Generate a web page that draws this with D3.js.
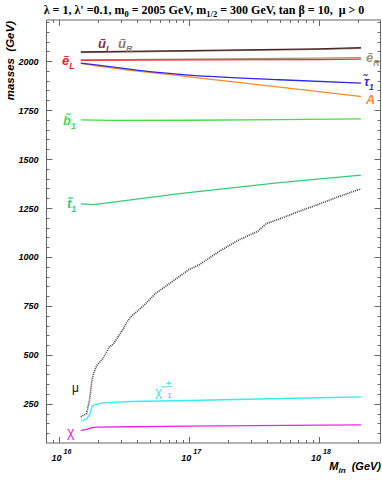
<!DOCTYPE html>
<html>
<head>
<meta charset="utf-8">
<script src="https://cdn.jsdelivr.net/npm/d3@7"></script>
<style>
  body { margin: 0; background: #fff; }
  svg text { font-family: "Liberation Sans", Arial, sans-serif; }
</style>
</head>
<body>
<div id="chart"></div>
<script>
// series: [M_in (GeV), mass (GeV)]
const uL = [[1.47e16, 2047], [1e17, 2054], [1e18, 2063], [2.12e18, 2069]];
const uR = [[1.47e16, 2044], [1e17, 2051], [1e18, 2060], [2.12e18, 2065]];
const eR = [[1.47e16, 2006], [1e17, 2010], [1e18, 2015], [2.12e18, 2018]];
const eL = [[1.47e16, 2004], [1e17, 2006], [1e18, 2008], [2.12e18, 2010]];
const tau1 = [[1.47e16, 1990], [2.06e16, 1978], [5.0e16, 1946], [1e17, 1929], [5.0e17, 1905], [2.12e18, 1888]];
const higgsA = [[1.47e16, 1988], [2e16, 1975], [1e17, 1920], [5.0e17, 1867], [2.12e18, 1819]];
const b1 = [[1.47e16, 1700], [2.5e16, 1697], [1e17, 1698], [5e17, 1701], [2.12e18, 1705]];
const t1 = [[1.47e16, 1271], [1.85e16, 1267], [8.5e16, 1323], [5.0e17, 1380], [2.12e18, 1418]];
const mu = [[1.47e16, 184], [1.63e16, 200], [1.72e16, 272], [1.79e16, 369], [1.85e16, 408], [1.95e16, 445],
  [2.18e16, 482], [2.45e16, 542], [2.6e16, 553], [3.1e16, 629], [3.3e16, 663], [3.6e16, 697],
  [4.43e16, 748], [5.6e16, 816], [7.5e16, 876], [1e17, 935], [1.21e17, 961], [1.72e17, 1029],
  [2.45e17, 1088], [3.4e17, 1131], [3.94e17, 1170], [5.0e17, 1194], [7.1e17, 1233],
  [1.01e18, 1270], [1.44e18, 1309], [2.12e18, 1348]];
const chargino = [[1.47e16, 161], [1.63e16, 173], [1.72e16, 195], [1.8e16, 238], [1.88e16, 246],
  [2.18e16, 255], [3.6e16, 262], [1e17, 267], [1e18, 281], [2.12e18, 286]];
const neutralino = [[1.47e16, 114], [1.63e16, 119], [1.79e16, 128], [1.95e16, 131], [3.6e16, 133],
  [1e17, 136], [1e18, 141], [2.12e18, 143]];

const yMajor = [250, 500, 750, 1000, 1250, 1500, 1750, 2000];
const xMajor = [1e16, 1e17, 1e18];
const xExp = ["16", "17", "18"];

const W = 382, H = 480;
const svg = d3.select("#chart").append("svg").attr("width", W).attr("height", H);

const x = d3.scaleLog().domain([8e15, 3e18]).range([46.5, 380.5]);
const y = d3.scaleLinear().domain([50, 2210]).range([443, 20]);

// title
const title = svg.append("text")
  .attr("x", 204).attr("y", 14)
  .attr("text-anchor", "middle")
  .style("font-family", "'Liberation Serif', 'Times New Roman', serif")
  .style("font-weight", "bold").style("font-size", "12px")
  .style("white-space", "pre");
title.append("tspan").text("λ = 1, λ' =0.1, m");
title.append("tspan").attr("dy", 3).style("font-size", "8.5px").text("0");
title.append("tspan").attr("dy", -3).text(" = 2005 GeV, m");
title.append("tspan").attr("dy", 3).style("font-size", "8.5px").text("1/2");
title.append("tspan").attr("dy", -3).text(" = 300 GeV, tan β = 10,  μ > 0");

// frame
svg.append("rect")
  .attr("x", x.range()[0]).attr("y", y.range()[1])
  .attr("width", x.range()[1] - x.range()[0])
  .attr("height", y.range()[0] - y.range()[1])
  .attr("fill", "none").attr("stroke", "#666").attr("stroke-width", 1);

// y ticks (left and right, inward)
const yMinor = d3.range(100, 2201, 50).filter(v => v % 250 !== 0);
const tickG = svg.append("g").attr("stroke", "#666").attr("stroke-width", 1);
[[yMajor, 6], [yMinor, 3]].forEach(([vals, len]) => {
  vals.forEach(v => {
    const yy = Math.round(y(v)) + 0.5;
    tickG.append("line").attr("x1", x.range()[0]).attr("x2", x.range()[0] + len).attr("y1", yy).attr("y2", yy);
    tickG.append("line").attr("x1", x.range()[1]).attr("x2", x.range()[1] - len).attr("y1", yy).attr("y2", yy);
  });
});

// x ticks (bottom and top, inward)
const xMinor = [9e15];
[1e16, 1e17].forEach(d => d3.range(2, 10).forEach(k => xMinor.push(k * d)));
xMinor.push(2e18);
[[xMajor, 6], [xMinor, 3]].forEach(([vals, len]) => {
  vals.forEach(v => {
    const xx = Math.round(x(v)) + 0.5;
    tickG.append("line").attr("x1", xx).attr("x2", xx).attr("y1", y.range()[0]).attr("y2", y.range()[0] - len);
    tickG.append("line").attr("x1", xx).attr("x2", xx).attr("y1", y.range()[1]).attr("y2", y.range()[1] + len);
  });
});

// y tick labels
svg.append("g").selectAll("text").data(yMajor).join("text")
  .attr("x", 38.5).attr("y", d => y(d) + 3.5)
  .attr("text-anchor", "end")
  .style("font-size", "9px").style("font-weight", "bold").style("font-style", "italic")
  .text(d => d);

// x tick labels
xMajor.forEach((v, i) => {
  const t = svg.append("text")
    .attr("x", x(v) - 7.5).attr("y", 461)
    .style("font-size", "9px").style("font-weight", "bold").style("font-style", "italic");
  t.append("tspan").text("10");
  t.append("tspan").attr("dx", 2).attr("dy", -7).style("font-size", "7px").text(xExp[i]);
});

// axis titles
const xt = svg.append("text").attr("x", 381).attr("y", 470).attr("text-anchor", "end")
  .style("font-size", "11px").style("font-weight", "bold").style("font-style", "italic")
  .style("white-space", "pre");
xt.append("tspan").text("M");
xt.append("tspan").attr("dy", 3).style("font-size", "8px").text("in");
xt.append("tspan").attr("dy", -3).text("  (GeV)");

svg.append("text")
  .attr("transform", "translate(13.5,21) rotate(-90)")
  .attr("text-anchor", "end")
  .style("font-size", "11.5px").style("font-weight", "bold").style("font-style", "italic")
  .style("white-space", "pre")
  .text("masses  (GeV)");

// lines
const line = d3.line().x(d => x(d[0])).y(d => y(d[1]));
const smooth = d3.line().x(d => x(d[0])).y(d => y(d[1])).curve(d3.curveMonotoneX);
const series = [
  [uR, "#8a7a6c", null, line],
  [uL, "#4a2428", null, line],
  [eR, "#a89078", null, line],
  [eL, "#e8323c", null, line],
  [higgsA, "#ff8a2a", null, smooth],
  [tau1, "#2a2ae8", null, smooth],
  [b1, "#44dd44", null, line],
  [t1, "#33cc77", null, line],
  [chargino, "#33eeee", null, line],
  [neutralino, "#ee22ee", null, line],
  [mu, "#444", "1 1", line]
];
series.forEach(([data, color, dash, gen]) => {
  svg.append("path").datum(data)
    .attr("fill", "none").attr("stroke", color)
    .attr("stroke-width", dash ? 1.7 : 1.3)
    .attr("stroke-dasharray", dash)
    .attr("d", gen);
});

// particle labels (tilde as combining accent)
function label(px, py, main, sub, color, opts = {}) {
  const size = opts.size || 13;
  const t = svg.append("text").attr("x", px).attr("y", py).attr("fill", color)
    .style("font-size", size + "px")
    .style("font-weight", opts.plain ? "normal" : "bold")
    .style("font-style", opts.plain ? "normal" : "italic");
  t.append("tspan").text(main);
  if (sub) t.append("tspan").attr("dy", 4).style("font-size", (size * 0.68) + "px").text(sub);
}
label(98, 48, "ũ", "L", "#8b2c48");
label(118, 48, "ũ", "R", "#8a7a6c");
label(62, 65, "ẽ", "L", "#ee2233");
label(366, 62, "ẽ", "R", "#a89078");
label(364, 86, "τ\u0303", "1", "#2a2ae8", { size: 12.5 });
label(366, 104, "A", null, "#ff8a2a", { size: 12.5 });
label(63, 125, "b\u0303", "1", "#44dd44");
label(67, 208, "t\u0303", "1", "#33cc77");
label(72, 392, "μ", null, "#111", { plain: true, size: 12 });
label(67, 437, "χ", null, "#ee22ee", { plain: true, size: 14 });

// chargino label
const ch = svg.append("text").attr("x", 155).attr("y", 396).attr("fill", "#33eeee")
  .style("font-size", "13px");
ch.append("tspan").text("χ\u0303");
ch.append("tspan").attr("x", 166).attr("y", 387).style("font-size", "9px").style("font-weight", "bold").text("±");
ch.append("tspan").attr("x", 167).attr("y", 398).style("font-size", "8px").style("font-weight", "bold").text("1");
</script>
</body>
</html>
